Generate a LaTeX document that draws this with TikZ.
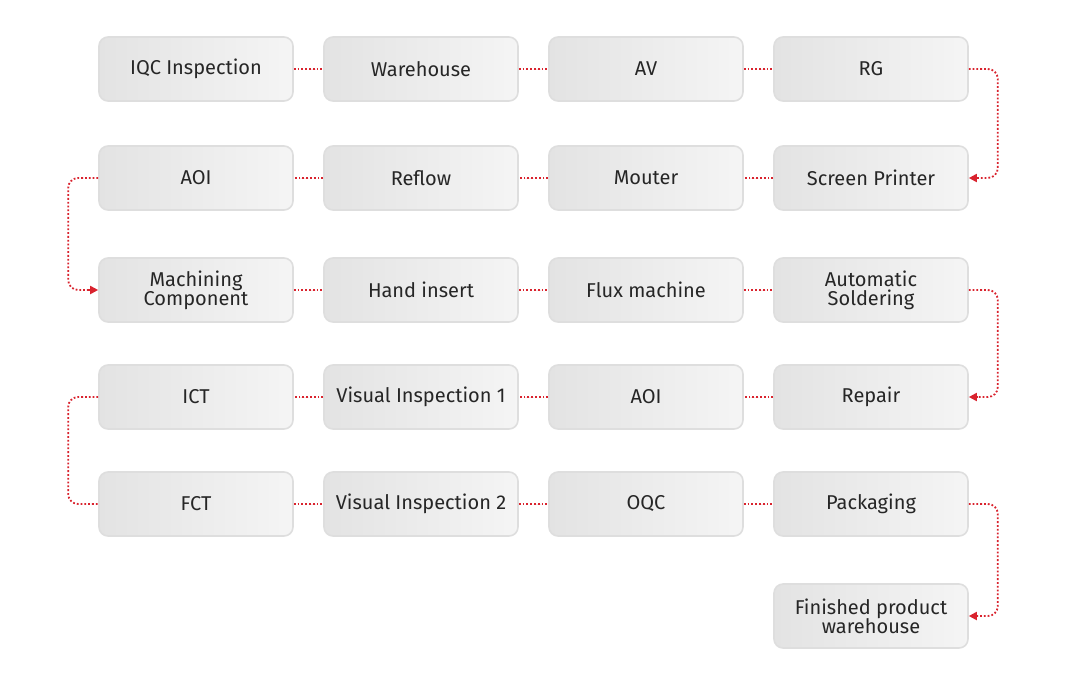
\documentclass[tikz,border=0pt]{standalone}
\usepackage{fontspec}
\setmainfont{Fira Sans}
\usetikzlibrary{arrows.meta,calc}
\definecolor{rd}{HTML}{D9232E}
\begin{document}
\begin{tikzpicture}[x=1pt,y=-1pt,
 box/.style={draw=black!13,line width=1.6pt,rounded corners=9pt,minimum width=194pt,minimum height=64pt,
   left color=black!11,right color=black!4,align=center,font=\fontsize{20}{22}\selectfont,text=black!85,inner sep=1pt},
 dl/.style={draw=rd,dotted,line width=1.8pt},
 ah/.style={draw=none,fill=rd},
 tip/.style={-{Triangle[length=8pt,width=8pt]},draw=rd,line width=1.8pt,shorten >=0pt}]
\useasboundingbox (0,0) rectangle (1086,678);
\def\xa{196}\def\xb{421}\def\xc{646}\def\xd{871}
\node[box] (a1) at (\xa,69) {IQC Inspection};
\node[box] (a2) at (\xb,69) {Warehouse};
\node[box] (a3) at (\xc,69) {AV};
\node[box] (a4) at (\xd,69) {RG};
\node[box] (b1) at (\xa,178) {AOI};
\node[box] (b2) at (\xb,178) {Reflow};
\node[box] (b3) at (\xc,178) {Mouter};
\node[box] (b4) at (\xd,178) {Screen Printer};
\node[box] (c1) at (\xa,290) {Machining\\[-3pt]Component};
\node[box] (c2) at (\xb,290) {Hand insert};
\node[box] (c3) at (\xc,290) {Flux machine};
\node[box] (c4) at (\xd,290) {Automatic\\[-3pt]Soldering};
\node[box] (d1) at (\xa,397) {ICT};
\node[box] (d2) at (\xb,397) {Visual Inspection 1};
\node[box] (d3) at (\xc,397) {AOI};
\node[box] (d4) at (\xd,397) {Repair};
\node[box] (e1) at (\xa,504) {FCT};
\node[box] (e2) at (\xb,504) {Visual Inspection 2};
\node[box] (e3) at (\xc,504) {OQC};
\node[box] (e4) at (\xd,504) {Packaging};
\node[box] (f4) at (\xd,616) {Finished product\\[-3pt]warehouse};
% horizontal connectors
\foreach \p/\q in {a1/a2,a2/a3,a3/a4,b4/b3,b3/b2,b2/b1,c1/c2,c2/c3,c3/c4,d4/d3,d3/d2,d2/d1,e1/e2,e2/e3,e3/e4}{
  \draw[dl] (\p) -- (\q);
  \draw[-{Triangle[length=8pt,width=8pt]},draw=none,fill=rd] ($(\p)!0.5!(\q)$) -- ($(\p)!0.535!(\q)$);
}
% vertical connectors
\draw[dl,rounded corners=10pt] (a4.east) -- ++(29,0) |- ($(b4.east)+(8,0)$);
\draw[tip,dotted] ($(b4.east)+(9,0)$) -- (b4.east);
\draw[dl,rounded corners=10pt] (b1.west) -- ++(-30,0) |- ($(c1.west)+(-8,0)$);
\draw[tip,dotted] ($(c1.west)+(-9,0)$) -- (c1.west);
\draw[dl,rounded corners=10pt] (c4.east) -- ++(29,0) |- ($(d4.east)+(8,0)$);
\draw[tip,dotted] ($(d4.east)+(9,0)$) -- (d4.east);
\draw[dl,rounded corners=10pt] (d1.west) -- ++(-30,0) |- (e1.west);
\draw[dl,rounded corners=10pt] (e4.east) -- ++(29,0) |- ($(f4.east)+(8,0)$);
\draw[tip,dotted] ($(f4.east)+(9,0)$) -- (f4.east);
\end{tikzpicture}
\end{document}
